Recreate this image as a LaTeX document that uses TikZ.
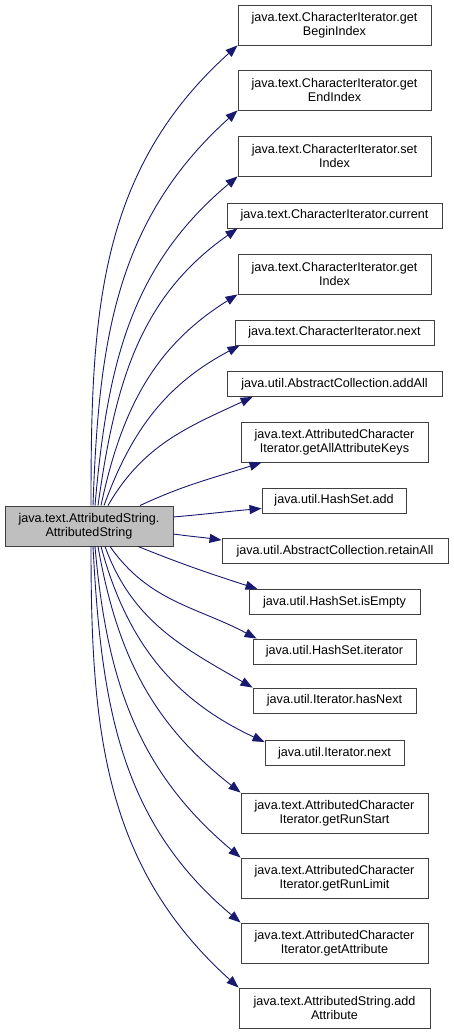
\documentclass[tikz,border=0pt]{standalone}
\usepackage{fontspec}
\setmainfont{Liberation Sans}
\usetikzlibrary{arrows.meta}
\definecolor{edgecol}{HTML}{191970}
\definecolor{boxline}{HTML}{404040}
\definecolor{rootfill}{HTML}{BFBFBF}
\begin{document}
\begin{tikzpicture}[x=1pt,y=1pt,
  box/.style={draw=boxline, line width=0.9pt, fill=white, inner sep=0pt, align=center,
    font=\fontsize{12.6}{14}\selectfont},
  tall/.style={box, minimum height=40pt},
  flat/.style={box, minimum height=25pt},
  edge/.style={draw=edgecol, line width=0.9pt, -{Triangle[length=12pt,width=9pt]}}]
\useasboundingbox (0,0) rectangle (453,1035);
\node[tall, fill=rootfill, minimum width=168pt] (root) at (89,509) {java.text.AttributedString.\\AttributedString};
\node[tall, minimum width=193pt] (t1) at (334.5,1010) {java.text.CharacterIterator.get\\BeginIndex};
\node[tall, minimum width=193pt] (t2) at (334.5,945) {java.text.CharacterIterator.get\\EndIndex};
\node[tall, minimum width=193pt] (t3) at (334.5,879) {java.text.CharacterIterator.set\\Index};
\node[flat, minimum width=215pt] (t4) at (334.5,819.5) {java.text.CharacterIterator.current};
\node[tall, minimum width=193pt] (t5) at (334.5,761) {java.text.CharacterIterator.get\\Index};
\node[flat, minimum width=199pt] (t6) at (334.5,702.5) {java.text.CharacterIterator.next};
\node[flat, minimum width=215pt] (t7) at (334.5,651) {java.util.AbstractCollection.addAll};
\node[tall, minimum width=187pt] (t8) at (334.5,593) {java.text.AttributedCharacter\\Iterator.getAllAttributeKeys};
\node[flat, minimum width=144pt] (t9) at (334,534.5) {java.util.HashSet.add};
\node[flat, minimum width=226pt] (t10) at (335,484) {java.util.AbstractCollection.retainAll};
\node[flat, minimum width=171pt] (t11) at (334.5,433) {java.util.HashSet.isEmpty};
\node[flat, minimum width=163pt] (t12) at (334.5,383.5) {java.util.HashSet.iterator};
\node[flat, minimum width=163pt] (t13) at (334.5,334.5) {java.util.Iterator.hasNext};
\node[flat, minimum width=139pt] (t14) at (334.5,282) {java.util.Iterator.next};
\node[tall, minimum width=187pt] (t15) at (334.5,222) {java.text.AttributedCharacter\\Iterator.getRunStart};
\node[tall, minimum width=187pt] (t16) at (334.5,157) {java.text.AttributedCharacter\\Iterator.getRunLimit};
\node[tall, minimum width=187pt] (t17) at (334.5,92) {java.text.AttributedCharacter\\Iterator.getAttribute};
\node[tall, minimum width=191pt] (t18) at (334.5,27) {java.text.AttributedString.add\\Attribute};
\draw[edge] ([xshift=2]root.north) to[out=90,in=222] (t1.south west);
\draw[edge] ([xshift=4]root.north) to[out=88,in=222] (t2.south west);
\draw[edge] ([xshift=6]root.north) to[out=85,in=220] (t3.south west);
\draw[edge] ([xshift=9]root.north) to[out=82,in=215] ([xshift=11]t4.south west);
\draw[edge] ([xshift=12]root.north) to[out=78,in=212] (t5.south west);
\draw[edge] ([xshift=15]root.north) to[out=70,in=208] ([xshift=5]t6.south west);
\draw[edge] ([xshift=19]root.north) to[out=60,in=205] ([xshift=26]t7.south west);
\draw[edge] ([xshift=51]root.north) to[out=25,in=198] ([xshift=21]t8.south west);
\draw[edge] ([yshift=9]root.east) to[out=5,in=185] ([yshift=-8]t9.west);
\draw[edge] ([yshift=-8]root.east) to[out=-8,in=172] ([yshift=-2]t10.north west);
\draw[edge] ([xshift=49]root.south) to[out=-22,in=162] ([xshift=9]t11.north west);
\draw[edge] ([xshift=21]root.south) to[out=-55,in=152] ([xshift=4]t12.north west);
\draw[edge] ([xshift=16]root.south) to[out=-70,in=150] (t13.north west);
\draw[edge] ([xshift=12]root.south) to[out=-75,in=155] ([yshift=-2]t14.north west);
\draw[edge] ([xshift=9]root.south) to[out=-80,in=142] (t15.north west);
\draw[edge] ([xshift=6]root.south) to[out=-85,in=140] (t16.north west);
\draw[edge] ([xshift=4]root.south) to[out=-87,in=140] (t17.north west);
\draw[edge] ([xshift=2]root.south) to[out=-90,in=138] (t18.north west);
\end{tikzpicture}
\end{document}
